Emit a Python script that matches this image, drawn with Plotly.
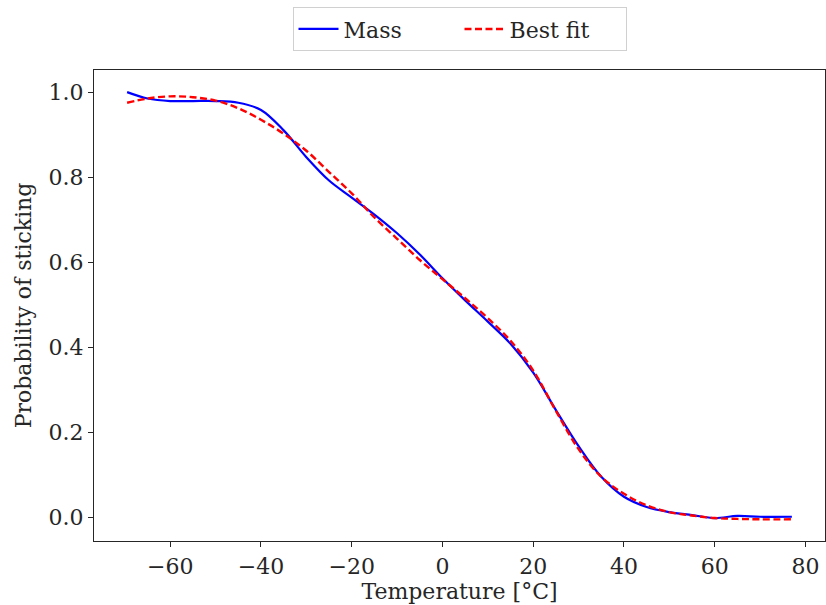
import plotly.graph_objects as go

temps = [-69.5, -65, -60, -55, -50, -45, -40, -35, -30, -25, -20, -15, -10, -5, 0,
         5, 10, 15, 20, 25, 30, 35, 40, 45, 50, 55, 60, 65, 70, 77]
mass = [1.0, 0.985, 0.979, 0.979, 0.979, 0.975, 0.958, 0.91, 0.847, 0.792, 0.752,
        0.712, 0.668, 0.618, 0.562, 0.51, 0.46, 0.408, 0.34, 0.252, 0.167, 0.095,
        0.048, 0.024, 0.012, 0.005, -0.002, 0.003, 0.001, 0.001]
best_fit = [0.975, 0.985, 0.99, 0.988, 0.98, 0.962, 0.935, 0.902, 0.862, 0.812,
            0.762, 0.705, 0.655, 0.605, 0.56, 0.515, 0.468, 0.415, 0.345, 0.25,
            0.16, 0.095, 0.055, 0.028, 0.012, 0.004, -0.002, -0.004, -0.005, -0.005]

x_ticks = [-60, -40, -20, 0, 20, 40, 60, 80]
y_ticks = [0.0, 0.2, 0.4, 0.6, 0.8, 1.0]

font = "DejaVu Serif"
axcol = "#262626"
fs = 22

fig = go.Figure()
fig.add_trace(go.Scatter(x=temps, y=mass, mode="lines", name="Mass",
                         line=dict(color="blue", width=2.2, shape="spline", smoothing=1.0)))
fig.add_trace(go.Scatter(x=temps, y=best_fit, mode="lines", name="Best fit",
                         line=dict(color="red", width=2.4, dash="7px,3.5px", shape="spline", smoothing=1.0)))

fig.update_layout(
    width=826, height=605,
    margin=dict(l=94, r=1, t=70, b=64),
    plot_bgcolor="white", paper_bgcolor="white",
    font=dict(family=font, size=fs, color=axcol),
    showlegend=True,
    legend=dict(orientation="h", x=0.5, xanchor="center", y=1.04, yanchor="bottom",
                bordercolor="#d0d0d0", borderwidth=1, bgcolor="white",
                font=dict(family=font, size=fs, color=axcol),
                itemwidth=40, tracegroupgap=0, entrywidthmode="pixels", entrywidth=111),
    xaxis=dict(range=[-76.8, 84.3], tickvals=x_ticks,
               ticktext=[("\u2212" + str(abs(v))) if v < 0 else str(v) for v in x_ticks],
               showgrid=False, zeroline=False, showline=True, mirror=True,
               linecolor=axcol, linewidth=1.3, ticks="outside", ticklen=5, tickwidth=1.2,
               tickcolor=axcol, tickfont=dict(family=font, size=fs, color=axcol),
               title=dict(text="Temperature [°C]", font=dict(family=font, size=fs, color=axcol), standoff=4)),
    yaxis=dict(range=[-0.056, 1.052], tickvals=y_ticks,
               ticktext=["%.1f" % v for v in y_ticks],
               showgrid=False, zeroline=False, showline=True, mirror=True,
               linecolor=axcol, linewidth=1.3, ticks="outside", ticklen=5, tickwidth=1.2,
               tickcolor=axcol, tickfont=dict(family=font, size=fs, color=axcol),
               title=dict(text="Probability of sticking", font=dict(family=font, size=fs, color=axcol), standoff=10)),
)

fig.write_html("out.html")
